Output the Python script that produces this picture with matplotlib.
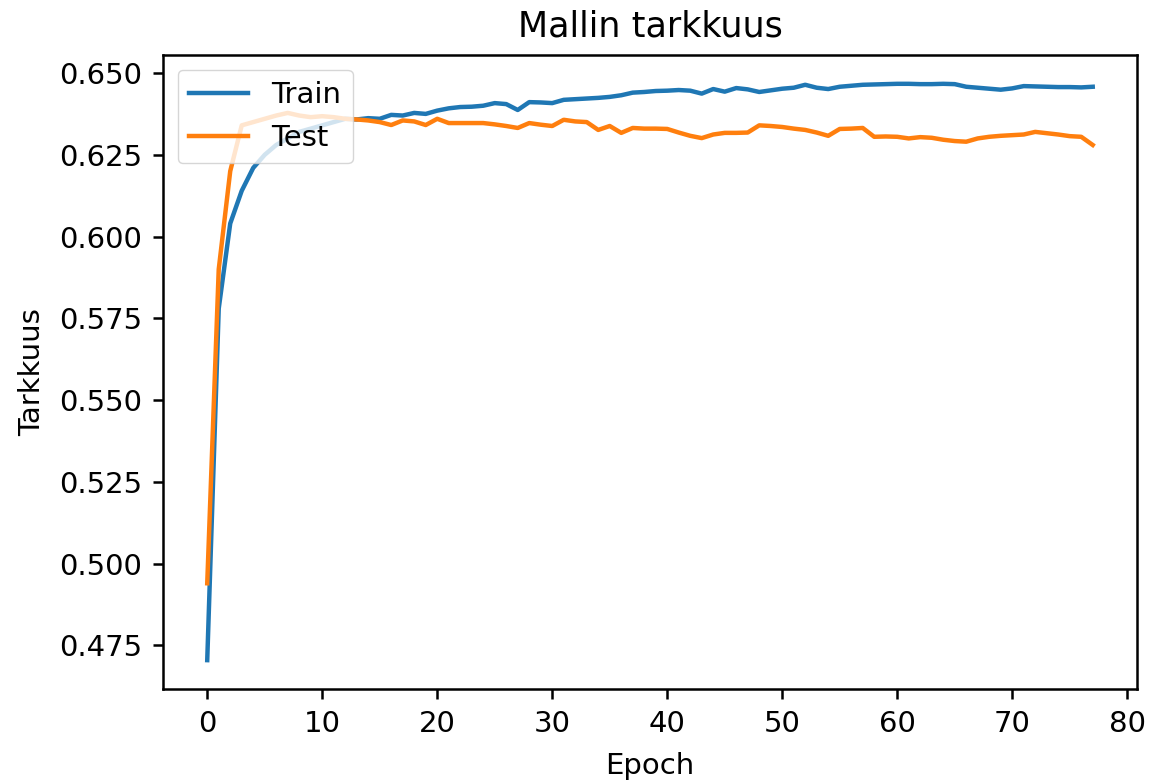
import matplotlib
matplotlib.use("Agg")
import matplotlib.pyplot as plt

# Accuracy per epoch
epochs = list(range(78))

train_acc = [
    0.4705, 0.578, 0.604, 0.614, 0.621, 0.625, 0.628, 0.630, 0.632, 0.633,
    0.634, 0.635, 0.636, 0.6358, 0.6362, 0.6360, 0.6372, 0.6370, 0.6378, 0.6375,
    0.6385, 0.6392, 0.6396, 0.6397, 0.6400, 0.6408, 0.6405, 0.6387, 0.6411, 0.6410,
    0.6408, 0.6418, 0.6420, 0.6422, 0.6424, 0.6427, 0.6432, 0.6440, 0.6442, 0.6445,
    0.6446, 0.6448, 0.6446, 0.6437, 0.6451, 0.6443, 0.6454, 0.6450, 0.6442, 0.6447,
    0.6452, 0.6455, 0.6464, 0.6455, 0.6451, 0.6458, 0.6461, 0.6464, 0.6465, 0.6466,
    0.6467, 0.6467, 0.6466, 0.6466, 0.6467, 0.6466, 0.6458, 0.6455, 0.6452, 0.6449,
    0.6453, 0.6460, 0.6459, 0.6458, 0.6457, 0.6457, 0.6456, 0.6458,
]

test_acc = [
    0.494, 0.590, 0.620, 0.634, 0.635, 0.636, 0.637, 0.6378, 0.6370, 0.6365,
    0.6368, 0.6365, 0.6360, 0.6358, 0.6355, 0.6350, 0.6341, 0.6355, 0.6352, 0.6341,
    0.6360, 0.6347, 0.6347, 0.6347, 0.6347, 0.6343, 0.6338, 0.6332, 0.6347, 0.6342,
    0.6338, 0.6357, 0.6352, 0.6350, 0.6326, 0.6338, 0.6317, 0.6332, 0.6330, 0.6330,
    0.6329, 0.6318, 0.6308, 0.6301, 0.6312, 0.6317, 0.6317, 0.6318, 0.6340, 0.6338,
    0.6335, 0.6330, 0.6326, 0.6318, 0.6308, 0.6329, 0.6330, 0.6332, 0.6305, 0.6306,
    0.6305, 0.6300, 0.6304, 0.6302, 0.6296, 0.6292, 0.6290, 0.6300, 0.6305, 0.6308,
    0.6310, 0.6312, 0.6320, 0.6316, 0.6312, 0.6307, 0.6305, 0.6280,
]

# the reference is a small default plot blown up ~3x, so scale everything
plt.rcParams["font.size"] = 21
plt.rcParams["axes.linewidth"] = 1.8
plt.rcParams["xtick.major.size"] = 7.5
plt.rcParams["ytick.major.size"] = 7.5
plt.rcParams["xtick.major.width"] = 1.8
plt.rcParams["ytick.major.width"] = 1.8
plt.rcParams["xtick.major.pad"] = 7.5
plt.rcParams["ytick.major.pad"] = 7.5

fig = plt.figure(figsize=(11.5, 7.8), dpi=100)
ax = fig.add_axes([0.1417, 0.1167, 0.847, 0.8128])

ax.plot(epochs, train_acc, color="#1f77b4", linewidth=3.2, label="Train")
ax.plot(epochs, test_acc, color="#ff7f0e", linewidth=3.2, label="Test")

ax.set_title("Mallin tarkkuus", pad=13)
ax.set_xlabel("Epoch", labelpad=10)
ax.set_ylabel("Tarkkuus", labelpad=9)

ax.legend(loc="upper left", handlelength=2.0, borderpad=0.4)

fig.savefig("out.png", dpi=100)
plt.close()
